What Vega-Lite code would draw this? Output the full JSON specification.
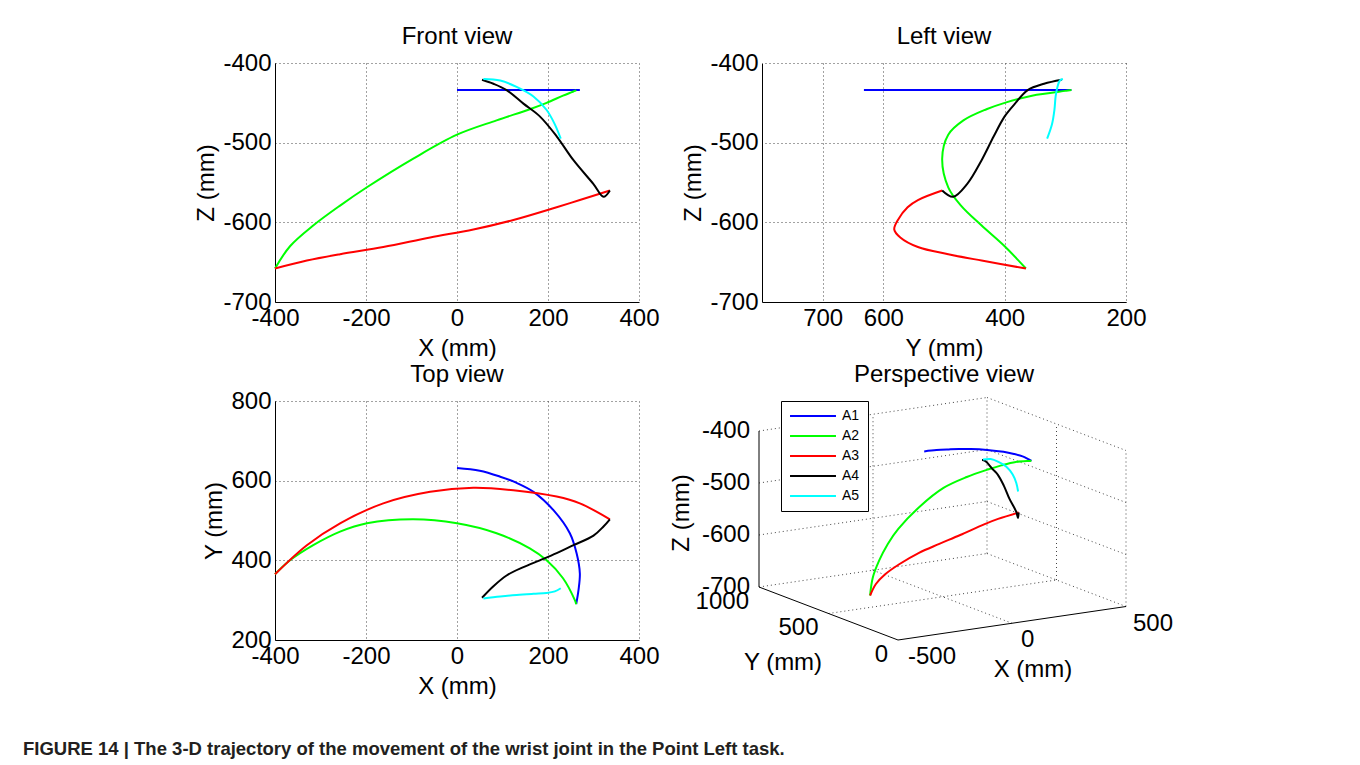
{
  "$schema": "https://vega.github.io/schema/vega-lite/v6.json",
  "padding": {"left": 23, "top": 25, "right": 5, "bottom": 5},
  "background": "white",
  "datasets": {
    "traj": [
      {"s":"A1","i":1,"X":0,"Y":632,"Z":-434,"u":162.2,"v":188.6},
      {"s":"A1","i":2,"X":50,"Y":625,"Z":-434,"u":174.5,"v":189.9},
      {"s":"A1","i":3,"X":95,"Y":610,"Z":-434,"u":186.9,"v":190.6},
      {"s":"A1","i":4,"X":130,"Y":595,"Z":-434,"u":196.9,"v":191.0},
      {"s":"A1","i":5,"X":168,"Y":572,"Z":-434,"u":208.8,"v":191.0},
      {"s":"A1","i":6,"X":212,"Y":526,"Z":-434,"u":225.2,"v":190.1},
      {"s":"A1","i":7,"X":248,"Y":468,"Z":-434,"u":241.5,"v":188.2},
      {"s":"A1","i":8,"X":263,"Y":417,"Z":-434,"u":252.0,"v":186.0},
      {"s":"A1","i":9,"X":270,"Y":367,"Z":-434,"u":260.6,"v":183.6},
      {"s":"A1","i":10,"X":267,"Y":325,"Z":-434,"u":265.7,"v":181.2},
      {"s":"A1","i":11,"X":262,"Y":290,"Z":-434,"u":269.4,"v":179.2},
      {"s":"A2","i":1,"X":-400,"Y":365,"Z":-658,"u":108.1,"v":44.5},
      {"s":"A2","i":2,"X":-367,"Y":400,"Z":-630,"u":110.7,"v":62.1},
      {"s":"A2","i":3,"X":-316,"Y":438,"Z":-604,"u":117.1,"v":79.3},
      {"s":"A2","i":4,"X":-257,"Y":472,"Z":-579,"u":125.8,"v":96.1},
      {"s":"A2","i":5,"X":-198,"Y":493,"Z":-556,"u":136.3,"v":111.1},
      {"s":"A2","i":6,"X":-96,"Y":503,"Z":-520,"u":158.2,"v":133.8},
      {"s":"A2","i":7,"X":0,"Y":493,"Z":-490,"u":181.5,"v":152.1},
      {"s":"A2","i":8,"X":87,"Y":468,"Z":-472,"u":204.8,"v":163.0},
      {"s":"A2","i":9,"X":160,"Y":430,"Z":-458,"u":226.7,"v":170.7},
      {"s":"A2","i":10,"X":197,"Y":400,"Z":-450,"u":239.3,"v":174.6},
      {"s":"A2","i":11,"X":233,"Y":355,"Z":-441,"u":253.8,"v":178.1},
      {"s":"A2","i":12,"X":259,"Y":300,"Z":-435,"u":267.4,"v":179.1},
      {"s":"A2","i":13,"X":262,"Y":290,"Z":-434,"u":269.4,"v":179.2},
      {"s":"A3","i":1,"X":-400,"Y":365,"Z":-658,"u":108.1,"v":44.5},
      {"s":"A3","i":2,"X":-330,"Y":438,"Z":-648,"u":113.9,"v":56.0},
      {"s":"A3","i":3,"X":-257,"Y":493,"Z":-640,"u":122.9,"v":65.5},
      {"s":"A3","i":4,"X":-162,"Y":543,"Z":-631,"u":137.6,"v":76.0},
      {"s":"A3","i":5,"X":-59,"Y":572,"Z":-619,"u":157.0,"v":87.2},
      {"s":"A3","i":6,"X":36,"Y":582,"Z":-609,"u":177.3,"v":96.1},
      {"s":"A3","i":7,"X":124,"Y":576,"Z":-597,"u":198.2,"v":105.0},
      {"s":"A3","i":8,"X":219,"Y":560,"Z":-581,"u":222.1,"v":115.7},
      {"s":"A3","i":9,"X":270,"Y":543,"Z":-572,"u":236.1,"v":121.1},
      {"s":"A3","i":10,"X":336,"Y":503,"Z":-560,"u":256.7,"v":127.5},
      {"s":"A4","i":1,"X":336,"Y":503,"Z":-560,"u":256.7,"v":127.5},
      {"s":"A4","i":2,"X":322,"Y":485,"Z":-568,"u":256.0,"v":121.9},
      {"s":"A4","i":3,"X":300,"Y":462,"Z":-552,"u":254.2,"v":128.3},
      {"s":"A4","i":4,"X":256,"Y":438,"Z":-522,"u":247.5,"v":141.1},
      {"s":"A4","i":5,"X":219,"Y":418,"Z":-492,"u":241.8,"v":154.4},
      {"s":"A4","i":6,"X":182,"Y":400,"Z":-467,"u":235.9,"v":165.2},
      {"s":"A4","i":7,"X":146,"Y":383,"Z":-451,"u":230.1,"v":171.4},
      {"s":"A4","i":8,"X":109,"Y":362,"Z":-434,"u":224.5,"v":177.9},
      {"s":"A4","i":9,"X":80,"Y":335,"Z":-426,"u":221.7,"v":179.7},
      {"s":"A4","i":10,"X":55,"Y":306,"Z":-421,"u":220.0,"v":179.9},
      {"s":"A5","i":1,"X":58,"Y":304,"Z":-420,"u":221.0,"v":180.4},
      {"s":"A5","i":2,"X":95,"Y":309,"Z":-422,"u":228.7,"v":180.9},
      {"s":"A5","i":3,"X":131,"Y":313,"Z":-430,"u":236.4,"v":178.1},
      {"s":"A5","i":4,"X":168,"Y":316,"Z":-442,"u":244.4,"v":173.3},
      {"s":"A5","i":5,"X":197,"Y":318,"Z":-459,"u":250.7,"v":165.5},
      {"s":"A5","i":6,"X":215,"Y":322,"Z":-477,"u":254.3,"v":157.0},
      {"s":"A5","i":7,"X":228,"Y":330,"Z":-495,"u":256.1,"v":148.5}
    ],
    "box": [
      {"u":-3,"v":53,"u2":-3,"v2":209,"k":"s"},
      {"u":-3,"v":53,"u2":136,"v2":0,"k":"s"},
      {"u":136,"v":0,"u2":364,"v2":33.5,"k":"s"},
      {"u":-3,"v":53,"u2":225,"v2":86.5,"k":"d"},
      {"u":-3,"v":105,"u2":225,"v2":138.5,"k":"d"},
      {"u":-3,"v":157,"u2":225,"v2":190.5,"k":"d"},
      {"u":-3,"v":209,"u2":225,"v2":242.5,"k":"d"},
      {"u":225,"v":86.5,"u2":364,"v2":33.5,"k":"d"},
      {"u":225,"v":138.5,"u2":364,"v2":85.5,"k":"d"},
      {"u":225,"v":190.5,"u2":364,"v2":137.5,"k":"d"},
      {"u":225,"v":242.5,"u2":364,"v2":189.5,"k":"d"},
      {"u":225,"v":86.5,"u2":225,"v2":242.5,"k":"d"},
      {"u":364,"v":33.5,"u2":364,"v2":189.5,"k":"d"},
      {"u":111,"v":69.75,"u2":111,"v2":225.75,"k":"d"},
      {"u":294.5,"v":60,"u2":294.5,"v2":216,"k":"d"},
      {"u":111,"v":69.75,"u2":250,"v2":16.75,"k":"d"},
      {"u":66.5,"v":26.5,"u2":294.5,"v2":60,"k":"d"}
    ],
    "plab": [
      {"t":"-400","u":-12,"v":209,"g":"r"},
      {"t":"-500","u":-12,"v":157,"g":"r"},
      {"t":"-600","u":-12,"v":105,"g":"r"},
      {"t":"-700","u":-12,"v":53,"g":"r"},
      {"t":"1000","u":-13,"v":38,"g":"r"},
      {"t":"500","u":56.5,"v":12.5,"g":"r"},
      {"t":"0","u":126,"v":-15,"g":"r"},
      {"t":"-500","u":146,"v":-17,"g":"l"},
      {"t":"0","u":259,"v":0,"g":"l"},
      {"t":"500","u":371,"v":16.5,"g":"l"},
      {"t":"Y (mm)","u":21,"v":-23,"g":"c"},
      {"t":"X (mm)","u":271,"v":-30,"g":"c"},
      {"t":"Z (mm)","u":-80,"v":127,"g":"z"}
    ]
  },
  "title": {
    "text": "FIGURE 14 | The 3-D trajectory of the movement of the wrist joint in the Point Left task.",
    "orient": "bottom", "anchor": "start", "frame": "group", "dx": -252, "offset": 42,
    "font": "Liberation Sans", "fontSize": 18.5, "fontWeight": "bold", "color": "#231f20", "baseline": "top"
  },
  "columns": 2,
  "spacing": {"row": 99, "column": 123},
  "bounds": "flush",
  "resolve": {"scale": {"color": "independent"}, "legend": {"color": "independent"}},
  "concat": [
    {
      "title": "Front view", "width": 364, "height": 239,
      "data": {"name": "traj"},
      "mark": {"type": "line", "strokeWidth": 2, "interpolate": "catmull-rom"},
      "encoding": {
        "x": {"field": "X", "type": "quantitative", "scale": {"domain": [-400, 400], "nice": false, "zero": false}, "axis": {"title": "X (mm)", "values": [-400, -200, 0, 200, 400]}},
        "y": {"field": "Z", "type": "quantitative", "scale": {"domain": [-700, -400], "nice": false, "zero": false}, "axis": {"title": "Z (mm)", "values": [-700, -600, -500, -400]}},
        "color": {"field": "s", "type": "nominal", "scale": {"domain": ["A1","A2","A3","A4","A5"], "range": ["#0000ff","#00ff00","#ff0000","#000000","#00ffff"]}, "legend": null},
        "order": {"field": "i", "type": "quantitative"}
      }
    },
    {
      "title": "Left view", "width": 364, "height": 239,
      "data": {"name": "traj"},
      "mark": {"type": "line", "strokeWidth": 2, "interpolate": "catmull-rom"},
      "encoding": {
        "x": {"field": "Y", "type": "quantitative", "scale": {"domain": [200, 800], "reverse": true, "nice": false, "zero": false}, "axis": {"title": "Y (mm)", "values": [200, 400, 600, 700]}},
        "y": {"field": "Z", "type": "quantitative", "scale": {"domain": [-700, -400], "nice": false, "zero": false}, "axis": {"title": "Z (mm)", "values": [-700, -600, -500, -400]}},
        "color": {"field": "s", "type": "nominal", "scale": {"domain": ["A1","A2","A3","A4","A5"], "range": ["#0000ff","#00ff00","#ff0000","#000000","#00ffff"]}, "legend": null},
        "order": {"field": "i", "type": "quantitative"}
      }
    },
    {
      "title": "Top view", "width": 364, "height": 239,
      "data": {"name": "traj"},
      "mark": {"type": "line", "strokeWidth": 2, "interpolate": "catmull-rom"},
      "encoding": {
        "x": {"field": "X", "type": "quantitative", "scale": {"domain": [-400, 400], "nice": false, "zero": false}, "axis": {"title": "X (mm)", "values": [-400, -200, 0, 200, 400]}},
        "y": {"field": "Y", "type": "quantitative", "scale": {"domain": [200, 800], "nice": false, "zero": false}, "axis": {"title": "Y (mm)", "values": [200, 400, 600, 800]}},
        "color": {"field": "s", "type": "nominal", "scale": {"domain": ["A1","A2","A3","A4","A5"], "range": ["#0000ff","#00ff00","#ff0000","#000000","#00ffff"]}, "legend": null},
        "order": {"field": "i", "type": "quantitative"}
      }
    },
    {
      "title": {"text": "Perspective view", "offset": 10},
      "width": 364, "height": 239,
      "layer": [
        {
          "data": {"name": "box"},
          "transform": [{"filter": "datum.k == 'd'"}],
          "mark": {"type": "rule", "strokeDash": [1, 3], "color": "#444", "strokeWidth": 1},
          "encoding": {
            "x": {"field": "u", "type": "quantitative", "scale": {"domain": [0, 364], "nice": false, "zero": false}, "axis": null},
            "y": {"field": "v", "type": "quantitative", "scale": {"domain": [0, 239], "nice": false, "zero": false}, "axis": null},
            "x2": {"field": "u2"},
            "y2": {"field": "v2"}
          }
        },
        {
          "data": {"name": "box"},
          "transform": [{"filter": "datum.k == 's'"}],
          "mark": {"type": "rule", "color": "#000", "strokeWidth": 1},
          "encoding": {
            "x": {"field": "u", "type": "quantitative", "scale": {"domain": [0, 364], "nice": false, "zero": false}, "axis": null},
            "y": {"field": "v", "type": "quantitative", "scale": {"domain": [0, 239], "nice": false, "zero": false}, "axis": null},
            "x2": {"field": "u2"},
            "y2": {"field": "v2"}
          }
        },
        {
          "data": {"name": "traj"},
          "mark": {"type": "line", "strokeWidth": 2, "interpolate": "catmull-rom"},
          "encoding": {
            "x": {"field": "u", "type": "quantitative", "scale": {"domain": [0, 364], "nice": false, "zero": false}, "axis": null},
            "y": {"field": "v", "type": "quantitative", "scale": {"domain": [0, 239], "nice": false, "zero": false}, "axis": null},
            "color": {"field": "s", "type": "nominal", "scale": {"domain": ["A1","A2","A3","A4","A5"], "range": ["#0000ff","#00ff00","#ff0000","#000000","#00ffff"]},
              "legend": {"orient": "none", "legendX": 19, "legendY": 0, "title": null, "strokeColor": "#000", "fillColor": "#fff", "padding": 8, "symbolType": "M-4,0H4", "symbolSize": 132, "symbolStrokeWidth": 2, "symbolOffset": 17, "labelFont": "Liberation Sans", "labelFontSize": 14, "labelColor": "#000", "labelOffset": 22, "rowPadding": 6}},
            "order": {"field": "i", "type": "quantitative"}
          }
        },
        {
          "data": {"name": "plab"},
          "transform": [{"filter": "datum.g == 'r'"}],
          "mark": {"type": "text", "align": "right", "baseline": "middle", "fontSize": 24, "font": "Liberation Sans", "color": "#000"},
          "encoding": {
            "x": {"field": "u", "type": "quantitative", "scale": {"domain": [0, 364], "nice": false, "zero": false}, "axis": null},
            "y": {"field": "v", "type": "quantitative", "scale": {"domain": [0, 239], "nice": false, "zero": false}, "axis": null},
            "text": {"field": "t"}
          }
        },
        {
          "data": {"name": "plab"},
          "transform": [{"filter": "datum.g == 'l'"}],
          "mark": {"type": "text", "align": "left", "baseline": "middle", "fontSize": 24, "font": "Liberation Sans", "color": "#000"},
          "encoding": {
            "x": {"field": "u", "type": "quantitative", "scale": {"domain": [0, 364], "nice": false, "zero": false}, "axis": null},
            "y": {"field": "v", "type": "quantitative", "scale": {"domain": [0, 239], "nice": false, "zero": false}, "axis": null},
            "text": {"field": "t"}
          }
        },
        {
          "data": {"name": "plab"},
          "transform": [{"filter": "datum.g == 'c'"}],
          "mark": {"type": "text", "align": "center", "baseline": "middle", "fontSize": 24, "font": "Liberation Sans", "color": "#000"},
          "encoding": {
            "x": {"field": "u", "type": "quantitative", "scale": {"domain": [0, 364], "nice": false, "zero": false}, "axis": null},
            "y": {"field": "v", "type": "quantitative", "scale": {"domain": [0, 239], "nice": false, "zero": false}, "axis": null},
            "text": {"field": "t"}
          }
        },
        {
          "data": {"name": "plab"},
          "transform": [{"filter": "datum.g == 'z'"}],
          "mark": {"type": "text", "align": "center", "baseline": "middle", "angle": 270, "fontSize": 24, "font": "Liberation Sans", "color": "#000"},
          "encoding": {
            "x": {"field": "u", "type": "quantitative", "scale": {"domain": [0, 364], "nice": false, "zero": false}, "axis": null},
            "y": {"field": "v", "type": "quantitative", "scale": {"domain": [0, 239], "nice": false, "zero": false}, "axis": null},
            "text": {"field": "t"}
          }
        }
      ]
    }
  ],
  "config": {
    "locale": {"number": {"decimal": ".", "thousands": ",", "grouping": [3], "currency": ["$", ""], "minus": "-"}},
    "font": "Liberation Sans",
    "view": {"stroke": null},
    "axis": {
      "labelFont": "Liberation Sans", "labelFontSize": 24, "labelColor": "#000",
      "titleFont": "Liberation Sans", "titleFontSize": 24, "titleFontWeight": "normal", "titleColor": "#000",
      "domainColor": "#000", "domainWidth": 1, "ticks": false, "tickSize": 0,
      "grid": true, "gridColor": "#444", "gridDash": [1, 3], "gridWidth": 1, "gridOpacity": 1,
      "labelFlush": false, "labelPadding": 4
    },
    "axisX": {"titlePadding": 6},
    "axisY": {"titlePadding": 4},
    "title": {"font": "Liberation Sans", "fontSize": 24, "fontWeight": "normal", "color": "#000", "frame": "group", "baseline": "alphabetic", "offset": 2}
  }
}
